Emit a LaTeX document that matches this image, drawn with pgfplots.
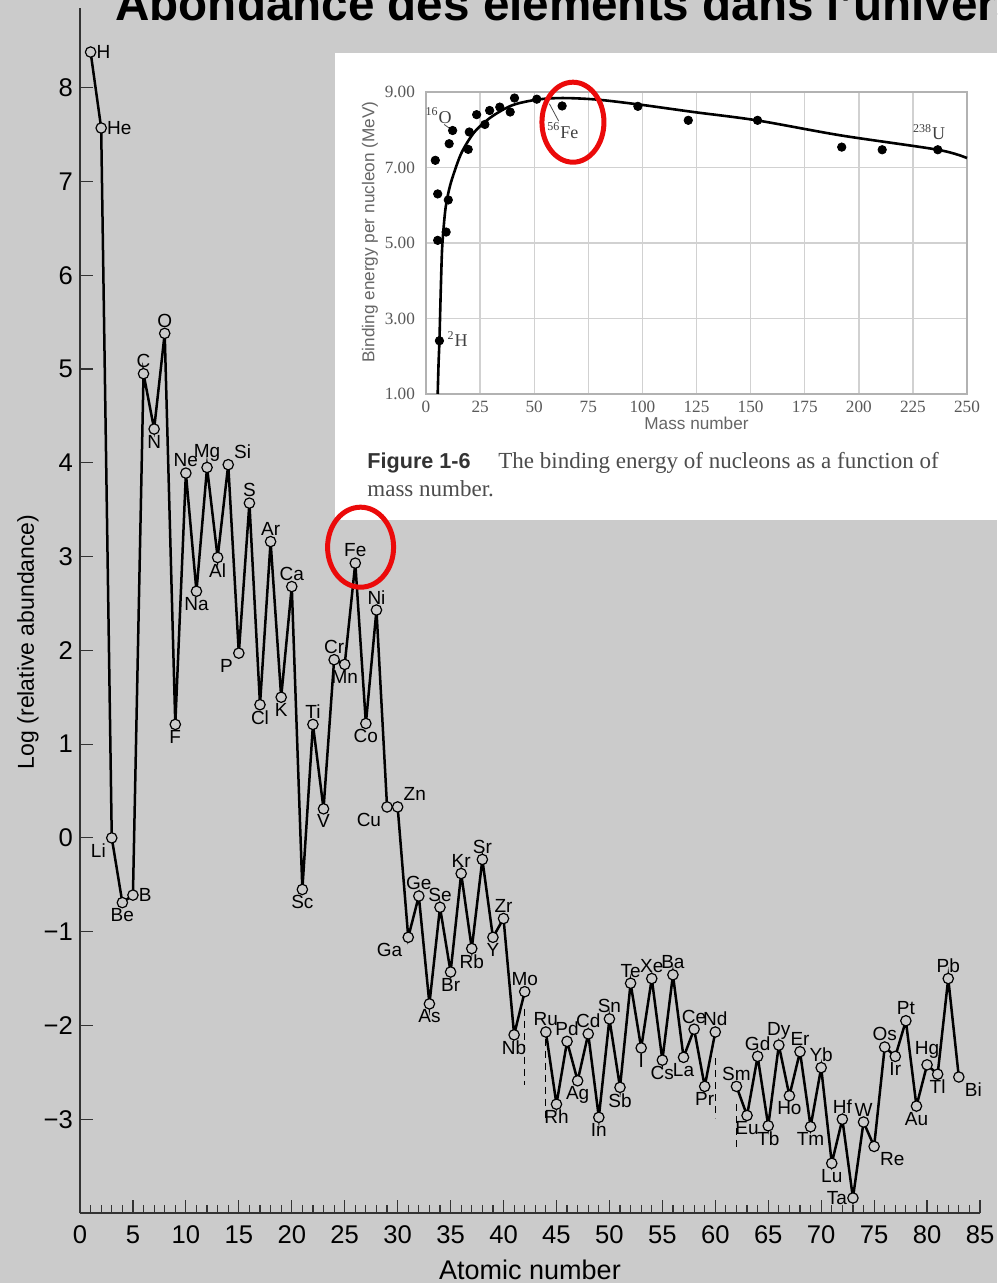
\documentclass[border=0pt]{standalone}
\usepackage{fontspec}
\setmainfont{Liberation Sans}
\newfontfamily\serif{Liberation Serif}
\usepackage{pgfplots}
\usepackage{pgfplotstable}
\pgfplotsset{compat=1.18}
\definecolor{bg}{RGB}{203,203,203}
\definecolor{redc}{RGB}{235,10,10}

% log relative abundance by atomic number
\pgfplotstableread{
Z v
1 8.38
2 7.57
3 0.00
4 -0.69
5 -0.61
6 4.95
7 4.36
8 5.38
9 1.21
10 3.89
11 2.63
12 3.95
13 2.99
14 3.98
15 1.97
16 3.57
17 1.42
18 3.16
19 1.50
20 2.68
21 -0.55
22 1.21
23 0.31
24 1.90
25 1.85
26 2.93
27 1.22
28 2.43
29 0.33
30 0.33
31 -1.06
32 -0.62
33 -1.77
34 -0.74
35 -1.43
36 -0.38
37 -1.18
38 -0.23
39 -1.06
40 -0.86
41 -2.10
42 -1.64
44 -2.07
45 -2.84
46 -2.17
47 -2.59
48 -2.09
49 -2.98
50 -1.93
51 -2.66
52 -1.55
53 -2.24
54 -1.50
55 -2.37
56 -1.46
57 -2.34
58 -2.04
59 -2.65
60 -2.07
62 -2.65
63 -2.96
64 -2.33
65 -3.07
66 -2.21
67 -2.75
68 -2.28
69 -3.08
70 -2.45
71 -3.47
72 -3.00
73 -3.84
74 -3.03
75 -3.29
76 -2.23
77 -2.33
78 -1.95
79 -2.86
80 -2.42
81 -2.52
82 -1.50
83 -2.55
}\abund

% labels above the point
\pgfplotstableread{
Z v lab
6 4.95 C
8 5.38 O
10 3.89 Ne
12 3.95 Mg
16 3.57 S
18 3.16 Ar
20 2.68 Ca
22 1.21 Ti
24 1.90 Cr
26 2.93 Fe
28 2.43 Ni
32 -0.62 Ge
34 -0.74 Se
36 -0.38 Kr
38 -0.23 Sr
40 -0.86 Zr
42 -1.64 Mo
44 -2.07 Ru
46 -2.17 Pd
48 -2.09 Cd
50 -1.93 Sn
52 -1.55 Te
54 -1.50 Xe
56 -1.46 Ba
58 -2.04 Ce
60 -2.07 Nd
62 -2.65 Sm
64 -2.33 Gd
66 -2.21 Dy
68 -2.28 Er
70 -2.45 Yb
72 -3.00 Hf
74 -3.03 W
76 -2.23 Os
78 -1.95 Pt
80 -2.42 Hg
82 -1.50 Pb
}\labS

% labels below the point
\pgfplotstableread{
Z v lab
4 -0.69 Be
7 4.36 N
9 1.21 F
11 2.63 Na
13 2.99 Al
17 1.42 Cl
19 1.50 K
21 -0.55 Sc
23 0.31 V
25 1.85 Mn
27 1.22 Co
33 -1.77 As
35 -1.43 Br
37 -1.18 Rb
39 -1.06 Y
41 -2.10 Nb
45 -2.84 Rh
47 -2.59 Ag
49 -2.98 In
51 -2.66 Sb
53 -2.24 I
55 -2.37 Cs
57 -2.34 La
59 -2.65 Pr
63 -2.96 Eu
65 -3.07 Tb
67 -2.75 Ho
69 -3.08 Tm
71 -3.47 Lu
77 -2.33 Ir
79 -2.86 Au
81 -2.52 Tl
}\labN

\pgfplotstableread{
Z v lab
1 8.38 H
2 7.57 He
5 -0.61 B
}\labW

\pgfplotstableread{
Z v lab
3 0.00 Li
15 1.97 P
29 0.33 Cu
31 -1.06 Ga
}\labNE

\pgfplotstableread{
Z v lab
14 3.98 Si
30 0.33 Zn
}\labSW

\pgfplotstableread{
Z v lab
75 -3.29 Re
83 -2.55 Bi
}\labNW

\pgfplotstableread{
Z v lab
73 -3.84 Ta
}\labE

\pgfplotstableread{
A E
4.3 7.19
5.4 6.30
5.4 5.07
6.2 2.41
9.3 5.29
10.3 6.14
10.7 7.63
12.3 7.98
19.5 7.48
20.0 7.94
23.4 8.40
27.2 8.14
29.4 8.51
34.1 8.60
38.9 8.47
40.9 8.84
51.2 8.81
62.9 8.63
97.9 8.62
121.2 8.25
153.2 8.25
192.1 7.54
210.8 7.47
236.5 7.47
}\bedots

\pgfplotstableread{
A E
5.4 1.0
5.8 1.8
6.2 2.41
6.8 3.7
7.4 4.80
8.2 5.45
9.1 5.95
10.6 6.40
12.6 6.80
16.5 7.40
22.4 7.94
30.2 8.34
39.9 8.65
51.6 8.80
63.2 8.84
78.8 8.80
98.3 8.67
123.6 8.47
152.8 8.25
191.7 7.85
236.5 7.47
250 7.25
}\becurve

\pgfplotsset{
  elemplot/.style={black, line width=1.25pt, mark=*, mark size=2.6pt,
    mark options={fill=bg, draw=black, line width=0.6pt, solid}},
  elemlab/.style={draw=none, mark=none, point meta=explicit symbolic, nodes near coords,
    every node near coord/.style={anchor=#1, font=\fontsize{9.5}{10}\selectfont, inner sep=2.8pt, text=black}},
}

\begin{document}
\begin{tikzpicture}[x=1pt,y=1pt]
\useasboundingbox (0,0) rectangle (498.5,641.5);
\clip (0,0) rectangle (498.5,641.5);
\fill[bg] (0,0) rectangle (498.5,641.5);
\node[anchor=base west, inner sep=0, font=\fontsize{23.8}{26}\selectfont\bfseries] at (57.5,631) {Abondance des éléments dans l'univers};

\begin{axis}[
 at={(40pt,35pt)}, anchor=south west, scale only axis, width=450pt, height=602.5pt,
 xmin=0, xmax=85, ymin=-4, ymax=8.85,
 axis x line=bottom, axis y line=left,
 axis line style={-, black!80, line width=0.6pt},
 xtick={0,5,...,85}, minor x tick num=4,
 ytick={-3,...,8}, yticklabels={−3,−2,−1,0,1,2,3,4,5,6,7,8},
 tick align=inside, major tick length=6.5pt, minor tick length=3.8pt,
 every tick/.style={black!80, line width=0.6pt},
 ticklabel style={font=\fontsize{12.8}{14}\selectfont},
 xticklabel style={yshift=-3pt},
 /pgf/number format/assume math mode=true,
 xlabel={Atomic number}, ylabel={Log (relative abundance)},
 xlabel style={at={(axis description cs:0.5,-0.0548)}, anchor=base, font=\fontsize{13.5}{15}\selectfont},
 ylabel style={at={(axis description cs:-0.0578,0.474)}, anchor=center, font=\fontsize{11.5}{13}\selectfont},
 clip=false,
]
\addplot[elemplot, restrict x to domain=1:42] table[x=Z, y=v]{\abund};
\addplot[elemplot, restrict x to domain=44:60] table[x=Z, y=v]{\abund};
\addplot[elemplot, restrict x to domain=62:83] table[x=Z, y=v]{\abund};
\addplot[black, line width=0.6pt, dash pattern=on 3.5pt off 2.5pt] coordinates {(42,-1.82) (42,-2.63)};
\addplot[black, line width=0.6pt, dash pattern=on 3.5pt off 2.5pt] coordinates {(44,-2.14) (44,-3.02)};
\addplot[black, line width=0.6pt, dash pattern=on 3.5pt off 2.5pt] coordinates {(60,-2.35) (60,-2.99)};
\addplot[black, line width=0.6pt, dash pattern=on 3.5pt off 2.5pt] coordinates {(62,-2.84) (62,-3.31)};
\addplot[elemlab=south] table[x=Z, y=v, meta=lab]{\labS};
\addplot[elemlab=north] table[x=Z, y=v, meta=lab]{\labN};
\addplot[elemlab=west] table[x=Z, y=v, meta=lab]{\labW};
\addplot[elemlab=north east] table[x=Z, y=v, meta=lab]{\labNE};
\addplot[elemlab=south west] table[x=Z, y=v, meta=lab]{\labSW};
\addplot[elemlab=north west] table[x=Z, y=v, meta=lab]{\labNW};
\addplot[elemlab=east] table[x=Z, y=v, meta=lab]{\labE};
\coordinate (fe) at (axis cs:26.5,3.1);
\end{axis}

\fill[white] (167.5,381.5) rectangle (500,615);

\begin{axis}[
 at={(213pt,444.5pt)}, anchor=south west, scale only axis, width=270.5pt, height=151pt,
 xmin=0, xmax=250, ymin=1, ymax=9,
 xtick={0,25,...,250}, ytick={1,3,5,7,9},
 grid=major, grid style={black!18, line width=0.7pt},
 axis line style={black!30, line width=0.7pt},
 major tick length=0pt,
 ticklabel style={font=\serif\fontsize{8.6}{10}\selectfont, text=black!65},
 yticklabel style={xshift=-2pt, /pgf/number format/fixed, /pgf/number format/fixed zerofill, /pgf/number format/precision=2},
 /pgf/number format/assume math mode=true,
 xlabel={Mass number}, ylabel={Binding energy per nucleon (MeV)},
 label style={font=\fontsize{8.6}{10}\selectfont, text=black!60},
 xlabel style={at={(axis description cs:0.5,-0.096)}, anchor=center},
 ylabel style={at={(axis description cs:-0.1035,0.536)}, anchor=center},
 clip=false,
]
\addplot[black, line width=1.3pt, smooth] table[x=A, y=E]{\becurve};
\addplot[only marks, mark=*, mark size=2.1pt, black] table[x=A, y=E]{\bedots};
\node[font=\serif\fontsize{9}{10}\selectfont, text=black!75, inner sep=0] at (axis cs:5.8,8.38) {\textsuperscript{16}O};
\draw[black!70, line width=0.4pt] (axis cs:8.4,8.14) -- (axis cs:12.3,7.98);
\node[font=\serif\fontsize{9}{10}\selectfont, text=black!75, inner sep=0] at (axis cs:63.2,7.98) {\textsuperscript{56}Fe};
\draw[black!70, line width=0.4pt] (axis cs:57,8.69) -- (axis cs:61.3,8.23);
\node[font=\serif\fontsize{9}{10}\selectfont, text=black!75, inner sep=0] at (axis cs:232.5,7.94) {\textsuperscript{238}U};
\node[font=\serif\fontsize{9}{10}\selectfont, text=black!75, inner sep=0] at (axis cs:14.6,2.46) {\textsuperscript{2}H};
\coordinate (bfe) at (axis cs:67.9,8.2);
\end{axis}

\node[anchor=base west, inner sep=0, font=\bfseries\fontsize{10.8}{12}\selectfont, text=black!80] at (183.5,407) {Figure 1-6};
\node[anchor=base west, inner sep=0, font=\serif\fontsize{11.5}{13}\selectfont, text=black!70] at (249,407) {The binding energy of nucleons as a function of};
\node[anchor=base west, inner sep=0, font=\serif\fontsize{11.5}{13}\selectfont, text=black!70] at (183.5,393) {mass number.};

\draw[redc, line width=2.5pt] (fe) ellipse [x radius=16.5pt, y radius=20pt];
\draw[redc, line width=2.5pt] (bfe) ellipse [x radius=15.5pt, y radius=20pt];
\end{tikzpicture}
\end{document}
